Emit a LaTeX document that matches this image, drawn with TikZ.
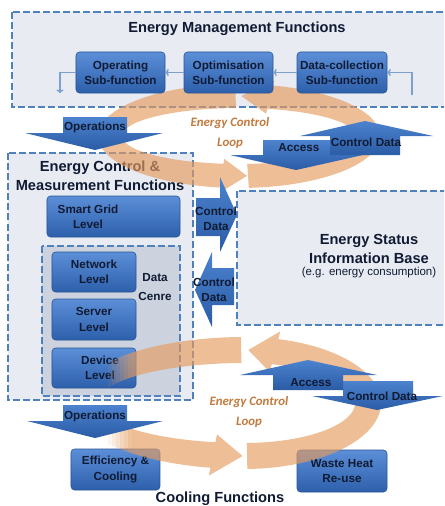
\documentclass[tikz,border=0pt]{standalone}
\usepackage{fontspec}
\setmainfont{Liberation Sans}
\newfontfamily\loopfont{Carlito}
\usetikzlibrary{arrows.meta}

\definecolor{dashblue}{HTML}{4F81BD}
\definecolor{panelgray}{HTML}{E8EBF2}
\definecolor{dcgray}{HTML}{CCD3DF}
\definecolor{boxtop}{HTML}{5C8FD8}
\definecolor{boxbot}{HTML}{2D5FAB}
\definecolor{boxline}{HTML}{2A5596}
\definecolor{arrowtop}{HTML}{4C82CE}
\definecolor{arrowbot}{HTML}{2B5CA6}
\definecolor{inkdark}{HTML}{101B33}
\definecolor{feedblue}{HTML}{7EA0CC}
\definecolor{loopcol}{HTML}{E59B5E}
\definecolor{looptext}{HTML}{C27A3E}

% one half of an elliptic loop band with its head:
% style, centre x, centre y, radius x, radius y, tail angle, head angle, tip angle
\newcommand{\halfloop}[8]{%
  \fill[#1] plot[domain=#6:#7, samples=60, variable=\ang]
      ({#2+(#4+\bandw)*cos(\ang)}, {#3+(#5+\bandw)*sin(\ang)})
    -- ({#2+(#4+\headw)*cos(#7)}, {#3+(#5+\headw)*sin(#7)})
    -- ({#2+#4*cos(#8)}, {#3+#5*sin(#8)})
    -- ({#2+(#4-\headw)*cos(#7)}, {#3+(#5-\headw)*sin(#7)})
    -- plot[domain=#7:#6, samples=60, variable=\ang]
      ({#2+(#4-\bandw)*cos(\ang)}, {#3+(#5-\bandw)*sin(\ang)})
    -- cycle;}

\begin{document}
\begin{tikzpicture}[x=0.03cm, y=-0.03cm,
    panel/.style={draw=dashblue, line width=2.1pt, dash pattern=on 6pt off 2.6pt, fill=panelgray},
    bluebox/.style={rounded corners=3pt, top color=boxtop, bottom color=boxbot, draw=boxline,
      line width=0.5pt, minimum width=2.67cm, minimum height=1.23cm, inner sep=0pt,
      text=inkdark, align=center, font=\bfseries\fontsize{10}{13}\selectfont},
    boxlabel/.style={text=inkdark, align=center, font=\bfseries\fontsize{10}{13}\selectfont},
    title/.style={text=inkdark, align=center, font=\bfseries\fontsize{12.5}{16.5}\selectfont},
    note/.style={text=inkdark, inner sep=0pt, font=\fontsize{9.8}{12}\selectfont},
    blockarrow/.style={top color=arrowtop, bottom color=arrowbot},
    arrowlabel/.style={text=inkdark, align=center, inner sep=0pt, font=\bfseries\fontsize{10}{12.5}\selectfont},
    feed/.style={draw=feedblue, line width=1.3pt, -{To[length=3pt,width=6pt]}},
    loopband/.style={fill=loopcol, fill opacity=0.65},
    looplabel/.style={text=looptext, align=center, font=\loopfont\bfseries\itshape\fontsize{11}{17}\selectfont}]

  \useasboundingbox (0,0) rectangle (444,506);
  \clip (0,0) rectangle (444,506);

  % dashed function areas
  \path[panel] (12,12) rectangle (460,107);
  \path[panel] (8,153) rectangle (193,400);
  \path[panel, fill=dcgray] (42,246) rectangle (180,396);
  \path[panel] (237,191) rectangle (460,325);

  \node[title] (emftitle) at (237,29) {Energy Management Functions};
  \node[title] (ecmftitle) at (100,176) {Energy Control \&\\Measurement Functions};
  \node[title, inner sep=0pt] (esibtitle) at (369,249) {Energy Status\\Information Base};
  \node[note] (esibnote) at (369,273) {(e.g. energy consumption)};
  \node[title] (cooltitle) at (220,499) {Cooling Functions};
  \node[boxlabel, font=\bfseries\fontsize{10}{17}\selectfont] (dctext) at (155,287) {Data\\Cenre};

  % levels and cooling blocks
  \node[bluebox, minimum width=3.99cm] (smartgrid) at (113.5,216.5) {};
  \node[boxlabel] (smarttext) at (88,216.5) {Smart Grid\\Level};
  \node[bluebox, minimum width=2.52cm, minimum height=1.2cm] (network) at (94,272) {Network\\Level};
  \node[bluebox, minimum width=2.52cm] (server) at (94,319.5) {Server\\Level};
  \node[bluebox, minimum width=2.52cm, minimum height=1.2cm] (device) at (94,368) {};
  \node[boxlabel] (devicetext) at (100,368) {Device\\Level};
  \node[bluebox] (efficiency) at (115.5,469.5) {Efficiency \&\\Cooling};
  \node[bluebox, minimum width=2.7cm, minimum height=1.26cm] (wasteheat) at (342,471) {Waste Heat\\Re-use};

  % the two control loops
  \def\bandw{12}\def\headw{17}
  \halfloop{loopband}{239}{136}{129}{40}{86}{-76}{-89}
  \halfloop{loopband}{239}{136}{129}{40}{268.5}{97.6}{86.4}
  \def\bandw{13}\def\headw{21}
  \halfloop{loopband}{244}{403}{124}{53}{88.6}{-75.5}{-88}
  % left end of the lower loop thins out in strips
  \foreach \k in {1,...,6} {
    \pgfmathsetmacro\bandop{0.1*\k}
    \begin{scope}
      \clip (104+4*\k,300) rectangle (108+4*\k,506);
      \halfloop{loopband, fill opacity=\bandop}{244}{403}{160}{53}{269}{101.2}{90.5}
    \end{scope}
  }
  \begin{scope}
    \clip (132,300) rectangle (444,506);
    \halfloop{loopband}{244}{403}{160}{53}{269}{101.2}{90.5}
  \end{scope}

  % management sub-functions
  \node[bluebox] (operating) at (120.5,72.5) {Operating\\Sub-function};
  \node[bluebox] (optimisation) at (228.5,72.5) {Optimisation\\Sub-function};
  \node[bluebox, minimum width=2.7cm] (datacoll) at (342,72.5) {Data-collection\\Sub-function};

  \coordinate (feedin) at (412,95);
  \coordinate (feedout) at (60,93);
  \draw[feed] (datacoll) -- (optimisation);
  \draw[feed] (optimisation) -- (operating);
  \draw[feed] (feedin) |- (datacoll.east);
  \draw[feed] (operating.west) -| (feedout);

  % block arrows
  \path[blockarrow] (63,117) -- (127,117) -- (127,133) -- (163,133) -- (95,150) -- (25,133) -- (63,133) -- cycle;
  \node[arrowlabel] (opsupper) at (95,127) {Operations};
  \path[blockarrow] (63,405) -- (127,405) -- (127,421) -- (163,421) -- (95,438) -- (27,421) -- (63,421) -- cycle;
  \node[arrowlabel] (opslower) at (95,416) {Operations};

  \path[blockarrow] (263,140) -- (330,140) -- (330,155) -- (363,155) -- (296,170) -- (230,155) -- (263,155) -- cycle;
  \node[arrowlabel] (accessupper) at (299,148) {Access};
  \path[blockarrow] (330,155) -- (400,155) -- (400,136) -- (433,136) -- (365,121) -- (300,136) -- (330,136) -- cycle;
  \node[arrowlabel] (ctrlupper) at (366,142) {Control Data};

  \path[blockarrow] (343,381) -- (413,381) -- (413,396) -- (443,396) -- (377,410) -- (312,396) -- (343,396) -- cycle;
  \node[arrowlabel] (ctrllower) at (382,396) {Control Data};
  \path[blockarrow] (273,390) -- (343,390) -- (343,375) -- (377,375) -- (308,360) -- (240,375) -- (273,375) -- cycle;
  \node[arrowlabel] (accesslower) at (311,383) {Access};

  \path[blockarrow] (196,198) -- (220,198) -- (220,177) -- (237,215) -- (220,252) -- (220,236) -- (196,236) -- cycle;
  \node[arrowlabel] (ctrlright) at (216,219) {Control\\Data};
  \path[blockarrow] (234,268) -- (212,268) -- (212,252) -- (195,290) -- (212,327) -- (212,305) -- (234,305) -- cycle;
  \node[arrowlabel] (ctrlleft) at (214,290) {Control\\Data};

  \node[looplabel] (loopupper) at (230,133) {Energy Control\\Loop};
  \node[looplabel] (looplower) at (249,412) {Energy Control\\Loop};
\end{tikzpicture}
\end{document}
